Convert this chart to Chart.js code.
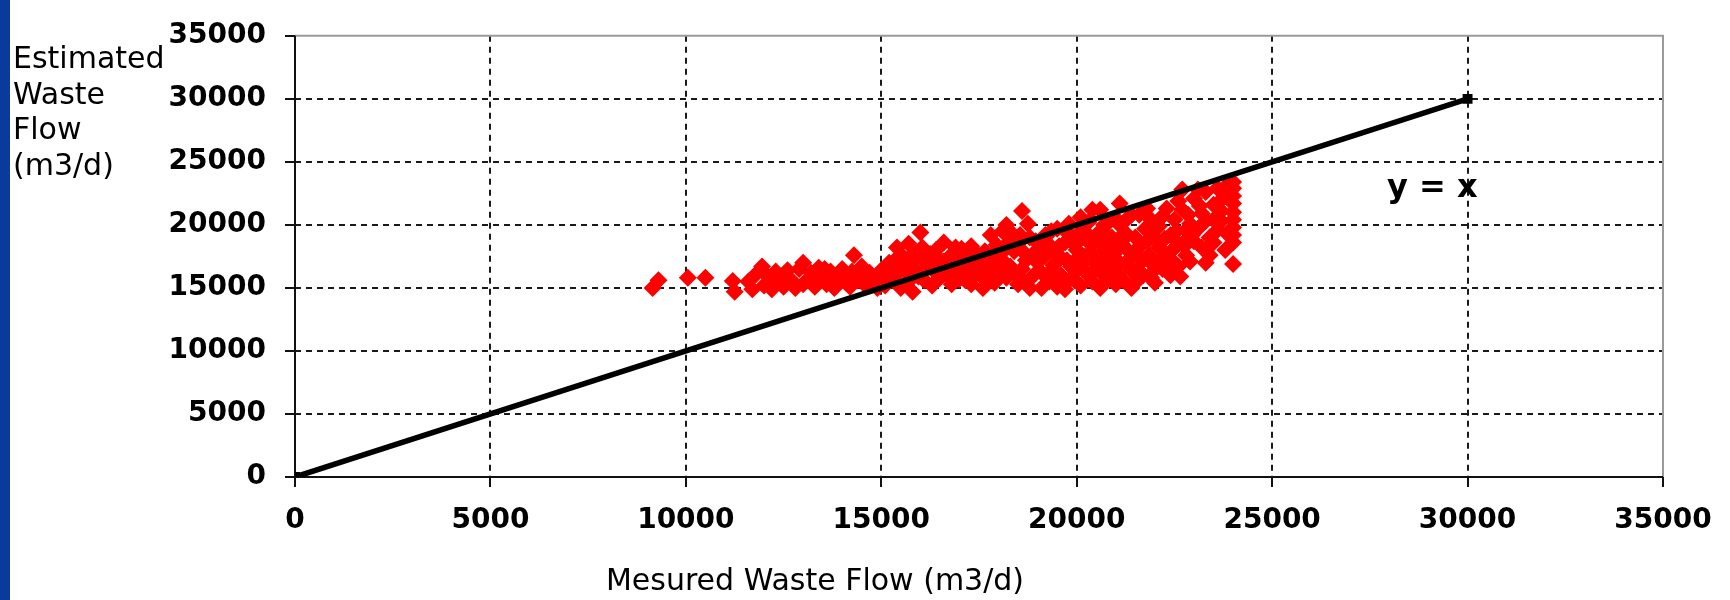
<!DOCTYPE html>
<html>
<head>
<meta charset="utf-8">
<title>Estimated vs Mesured Waste Flow</title>
<script src="https://cdn.jsdelivr.net/npm/chart.js@4"></script>
<style>
  body { margin: 0; background: #fff; }
  canvas { display: block; }
</style>
</head>
<body>
<canvas id="flowChart" width="1730" height="600"></canvas>
<script>
const axisTicks = [0, 5000, 10000, 15000, 20000, 25000, 30000, 35000];

// daily flows, m3/d
const measuredFlow = [
  9150, 9300, 10050, 10500, 11200, 11250,
  11600, 11700, 11800, 11950, 12000, 12100, 12150, 12200, 12300, 12350,
  12400, 12500, 12550, 12600, 12700, 12750, 12800, 12900, 13000, 13000,
  13100, 13200, 13250, 13300, 13400, 13500, 13600, 13650, 13700, 13800, 13900, 14000,
  14050, 14100, 14200, 14300, 14300, 14400, 14500, 14550, 14600, 14700, 14800, 14900,
  15000, 15050, 15100, 15200, 15250, 15300, 15400, 15400, 15500, 15550, 15600, 15700,
  15700, 15800, 15850, 15900, 16000, 16000, 16100, 16200, 16250, 16300, 16400, 16400,
  16500, 16600, 16600, 16700, 16750, 16800, 16900, 16900,
  17000, 17100, 17200, 17300, 17300, 17400, 17500, 17550, 17600, 17700, 17800, 17800,
  17900, 18000, 18100, 18100, 18200, 18200, 18300, 18350, 18400, 18500, 18500, 18600,
  18600, 18700, 18750, 18800, 18800, 18900, 19000, 19000,
  19100, 19100, 19200, 19200, 19300, 19300, 19350, 19400, 19450, 19500, 19500, 19600,
  19600, 19700, 19700, 19750, 19800, 19800, 19900, 19900, 20000, 20000, 20100, 20100,
  20150, 20200, 20200, 20250, 20300, 20400, 20400, 20400, 20500, 20500, 20600, 20600,
  20650, 20700, 20700, 20800, 20800, 20900, 20900, 21000, 21000, 21000,
  21100, 21100, 21200, 21200, 21300, 21300, 21350, 21400, 21500, 21500, 21600, 21600,
  21700, 21750, 21800, 21800, 21900, 21900, 22000, 22000, 22100, 22150, 22200, 22200,
  22300, 22400, 22400, 22500, 22500, 22600, 22600, 22700, 22700, 22800, 22800, 22900,
  23000, 23000,
  23200, 23200, 23300, 23400, 23400, 23500, 23600, 23600, 23700, 23700, 23800, 23900,
  24000, 24000, 24000, 24000, 24000, 24000, 24000, 24000, 24000, 24000,
  19050, 19250, 19550, 19650, 19850, 19950, 20050, 20350, 20450, 20550, 20750, 20850,
  20950, 21050, 21150, 21250, 21450, 21550, 21650, 21850, 21950, 22050, 22250, 22350,
  22450, 22550, 22750, 22850, 22950, 23100, 23150, 23300, 23500, 23850,
  18450, 18650, 18950, 17650, 17350, 16850, 16150, 15650, 15150, 14250, 13550, 12450,
  15350, 15750, 15950, 16050, 16350, 16450, 16550, 16950, 17050, 17150, 17250, 17450,
  17750, 17850, 17950, 18050, 18150, 18250, 18550, 18850, 19150, 19350, 19450, 19750,
  20050, 20300, 20600, 20850, 21100, 21300, 21400, 21700, 21900, 22100, 22300, 22600,
  22800, 23100, 23300, 23500, 23700, 23800, 22900, 22650, 21950, 21400, 20600, 19950,
  18650, 17600
];
const estimatedFlow = [
  15000, 15600, 15800, 15800, 15550, 14700,
  15500, 14900, 16100, 16700, 15200, 15900, 15500, 14900, 16300, 15800,
  15500, 15100, 16000, 16400, 15600, 15400, 15000, 16500, 17000, 15300,
  15600, 16200, 15500, 15100, 16600, 15800, 15300, 15900, 16300, 15000, 15900, 16500,
  15800, 15400, 15100, 17600, 16000, 15600, 16700, 15900, 15200, 16200, 15700, 15000,
  16400, 15600, 15200, 17000, 16500, 15800, 18200, 16100, 15000, 17500, 16800, 18500,
  15500, 14700, 17800, 16300, 17400, 19400, 15600, 16900, 17700, 15200, 18000, 16200,
  15800, 18600, 17100, 16000, 17500, 15300, 16600, 18200,
  15700, 16500, 17300, 18300, 15300, 16100, 17000, 16300, 15800, 16600, 19200, 17500,
  15400, 16200, 19500, 17200, 20000, 15800, 16700, 19300, 17900, 15300, 18500, 21100,
  16500, 17200, 20100, 15000, 19000, 16000, 18000, 17000,
  15000, 16200, 17600, 19200, 15500, 18400, 16400, 16800, 17900, 15100, 19700, 17400,
  16000, 18600, 14900, 17200, 20100, 15600, 17000, 19000, 16400, 18000, 20600, 15200,
  16900, 17500, 19500, 18800, 16000, 21200, 18500, 15500, 17000, 19200, 21200, 16300,
  19600, 18000, 20000, 15700, 17400, 19000, 16800, 20500, 18200, 15300,
  21700, 17000, 19300, 15600, 18000, 20500, 17300, 16400, 15400, 19000, 17500, 20800,
  16000, 19700, 18700, 21300, 17000, 15800, 19600, 15400, 18200, 17200, 16500, 20700,
  17600, 19200, 16000, 20400, 17000, 18500, 16700, 22800, 21200, 19600, 17600, 20100,
  22100, 18700,
  20900, 18200, 22600, 19000, 17600, 21600, 22900, 19600, 21100, 20300, 18000, 22400,
  23400, 22900, 22300, 21700, 21000, 20400, 19800, 19200, 18600, 16900,
  17300, 16000, 18300, 15300, 16700, 18400, 17400, 17800, 16400, 18700, 16600, 18600,
  17700, 16100, 18500, 16900, 17800, 16500, 18400, 17600, 19100, 16900, 18900, 16800,
  18000, 19500, 18300, 20800, 19200, 19700, 21500, 20300, 20400, 19300,
  16000, 17800, 18700, 17900, 16800, 17000, 16600, 16200, 15900, 16300, 16500, 15900,
  17200, 17000, 15900, 18200, 16700, 17400, 16400, 17800, 18100, 15600, 16600, 17700,
  15900, 16900, 18400, 17700, 16300, 18600, 19200, 17600, 18600, 19500, 15700, 19400,
  19300, 20200, 17600, 20300, 20000, 19200, 20800, 17200, 20400, 19900, 21300, 21900,
  18800, 22800, 17000, 18600, 22000, 23000, 17100, 15900, 16300, 15000, 15000, 15600,
  15500, 15000
];

// reference line y = x
const identityX = [0, 30000];
const identityY = [0, 30000];

const xTitle = 'Mesured Waste Flow (m3/d)';
const yTitleLines = ['Estimated', 'Waste', 'Flow', '(m3/d)'];
const lineLabel = 'y = x';

const flowPoints = measuredFlow.map((x, i) => ({ x: x, y: estimatedFlow[i] }));
const identityPoints = identityX.map((x, i) => ({ x: x, y: identityY[i] }));

const textFont = '"DejaVu Sans", sans-serif';

// page stripe, axis frame and free text
const decorations = {
  id: 'decorations',
  beforeDraw(chart) {
    const ctx = chart.ctx;
    ctx.save();
    ctx.fillStyle = '#ffffff';
    ctx.fillRect(0, 0, chart.width, chart.height);
    ctx.fillStyle = '#0b3a9e';
    ctx.fillRect(0, 0, 10, chart.height);
    ctx.restore();
  },
  beforeDatasetsDraw(chart) {
    const ctx = chart.ctx;
    const a = chart.chartArea;
    ctx.save();
    ctx.lineWidth = 2;
    ctx.setLineDash([]);
    ctx.strokeStyle = '#9a9a9a';
    ctx.beginPath();
    ctx.moveTo(a.left, a.top);
    ctx.lineTo(a.right, a.top);
    ctx.lineTo(a.right, a.bottom);
    ctx.stroke();
    ctx.strokeStyle = '#111';
    ctx.beginPath();
    ctx.moveTo(a.left, a.top);
    ctx.lineTo(a.left, a.bottom);
    ctx.lineTo(a.right, a.bottom);
    ctx.stroke();
    ctx.restore();
  },
  afterDraw(chart) {
    const ctx = chart.ctx;
    const xs = chart.scales.x;
    const ys = chart.scales.y;
    ctx.save();
    ctx.fillStyle = '#000';
    ctx.font = '30px ' + textFont;
    ctx.textBaseline = 'alphabetic';
    ctx.textAlign = 'left';
    yTitleLines.forEach((line, i) => ctx.fillText(line, 13, 68 + i * 35.6));
    ctx.textAlign = 'center';
    ctx.fillText(xTitle, 815, 590);
    ctx.font = 'bold 32px ' + textFont;
    ctx.textBaseline = 'middle';
    ctx.fillText(lineLabel, xs.getPixelForValue(29100), ys.getPixelForValue(22900));
    ctx.restore();
  }
};

const gridColor = c => (c.tick && c.tick.value > 0 && c.tick.value < 35000) ? '#1a1a1a' : 'rgba(0,0,0,0)';

const axisOptions = (fitSize) => ({
  type: 'linear',
  min: 0,
  max: 35000,
  afterBuildTicks: s => { s.ticks = axisTicks.map(v => ({ value: v })); },
  afterFit: fitSize,
  grid: {
    color: gridColor,
    lineWidth: 2,
    tickLength: 10,
    tickColor: '#111',
    tickWidth: 2,
    tickBorderDash: []
  },
  // axis lines are stroked by the plugin; border here only carries the grid dash
  border: { display: false, dash: [6, 5] },
  ticks: {
    color: '#000',
    font: { family: textFont, size: 28, weight: 'bold' },
    callback: v => String(v)
  }
});

const xAxis = axisOptions(s => { s.height = 123; });
xAxis.ticks.padding = 17;
xAxis.ticks.maxRotation = 0;
const yAxis = axisOptions(s => { s.width = 295; });
yAxis.ticks.padding = 19;

new Chart(document.getElementById('flowChart'), {
  type: 'scatter',
  data: {
    datasets: [
      {
        label: lineLabel,
        data: identityPoints,
        showLine: true,
        borderColor: '#000',
        borderWidth: 5.5,
        pointStyle: 'rect',
        pointRadius: 7,
        pointBackgroundColor: '#000',
        pointBorderWidth: 0,
        order: 0
      },
      {
        label: 'Estimated Waste Flow',
        data: flowPoints,
        pointStyle: 'rectRot',
        pointRadius: 9,
        pointBackgroundColor: '#ff0000',
        pointBorderWidth: 0,
        order: 1
      }
    ]
  },
  options: {
    responsive: false,
    animation: false,
    layout: { padding: { top: 23, right: 67, left: 0, bottom: 0 } },
    plugins: {
      legend: { display: false },
      tooltip: { enabled: false }
    },
    scales: { x: xAxis, y: yAxis }
  },
  plugins: [decorations]
});
</script>
</body>
</html>
